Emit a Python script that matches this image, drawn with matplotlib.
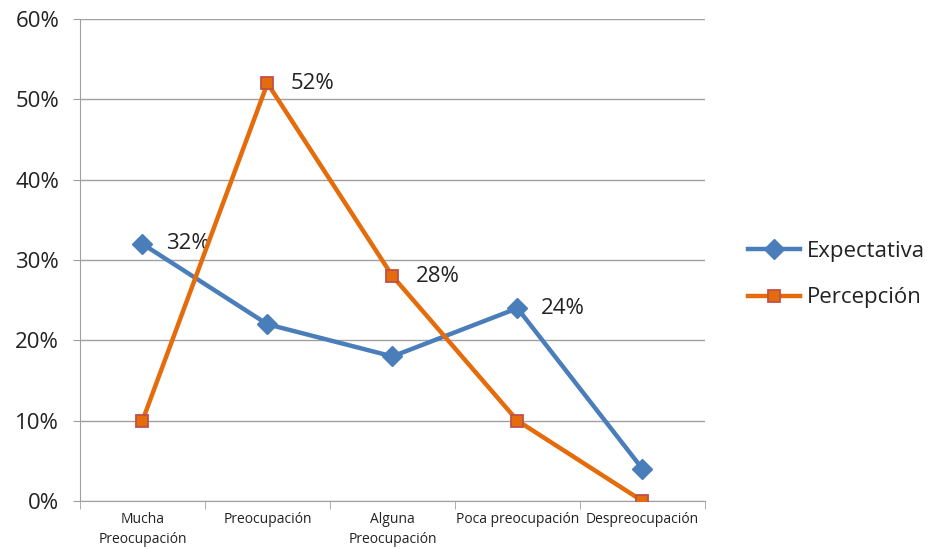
import matplotlib
matplotlib.use("Agg")
import matplotlib.pyplot as plt
from matplotlib.ticker import PercentFormatter

categories = ["Mucha\nPreocupación", "Preocupación", "Alguna\nPreocupación", "Poca preocupación", "Despreocupación"]
expectativa = [32, 22, 18, 24, 4]
percepcion = [10, 52, 28, 10, 0]
exp_labels = {0: "32%", 3: "24%"}
per_labels = {1: "52%", 2: "28%"}
yticks = [0, 10, 20, 30, 40, 50, 60]

plt.rcParams['font.family'] = ['Open Sans', 'DejaVu Sans']

fig = plt.figure(figsize=(9.3, 5.49), dpi=100)
ax = fig.add_axes([0.086, 0.0874, 0.672, 0.878])

x = list(range(len(categories)))
blue = "#4A7EBB"
orange = "#E46C0A"
ax.plot(x, expectativa, color=blue, lw=3.2, marker="D", markersize=10,
        markerfacecolor=blue, markeredgecolor=blue, label="Expectativa", zorder=3)
ax.plot(x, percepcion, color=orange, lw=3.2, marker="s", markersize=9,
        markerfacecolor=orange, markeredgecolor="#C0504D", markeredgewidth=1.3,
        label="Percepción", zorder=4)

for i, t in exp_labels.items():
    ax.annotate(t, (x[i], expectativa[i]), xytext=(17, 0), textcoords="offset points",
                va="center", ha="left", fontsize=16, color="#222222")
for i, t in per_labels.items():
    ax.annotate(t, (x[i], percepcion[i]), xytext=(17, 0), textcoords="offset points",
                va="center", ha="left", fontsize=16, color="#222222")

ax.set_xlim(-0.5, len(categories) - 0.5)
ax.set_ylim(0, 60)
ax.set_yticks(yticks)
ax.yaxis.set_major_formatter(PercentFormatter(decimals=0))
ax.grid(axis="y", color="#A0A0A0", lw=1)
ax.set_axisbelow(True)
for s in ["top", "right"]:
    ax.spines[s].set_visible(False)
ax.spines["left"].set_color("#A0A0A0")
ax.spines["bottom"].set_color("#A0A0A0")
ax.tick_params(axis="y", labelsize=16, length=5, color="#A0A0A0", labelcolor="#222222", pad=10)
ax.set_xticks(x)
ax.set_xticklabels(categories, fontsize=10, color="#222222", linespacing=1.4)
ax.tick_params(axis="x", length=0, pad=8)
ax.set_xticks([i - 0.5 for i in range(len(categories) + 1)], minor=True)
ax.tick_params(axis="x", which="minor", length=6, color="#A0A0A0")

leg = fig.legend(loc="center left", bbox_to_anchor=(0.795, 0.5), frameon=False,
                 fontsize=16, handlelength=2.35, labelspacing=1.15, handletextpad=0.3,
                 borderaxespad=0)
for t in leg.get_texts():
    t.set_color("#222222")

fig.savefig("out.png", dpi=100)
